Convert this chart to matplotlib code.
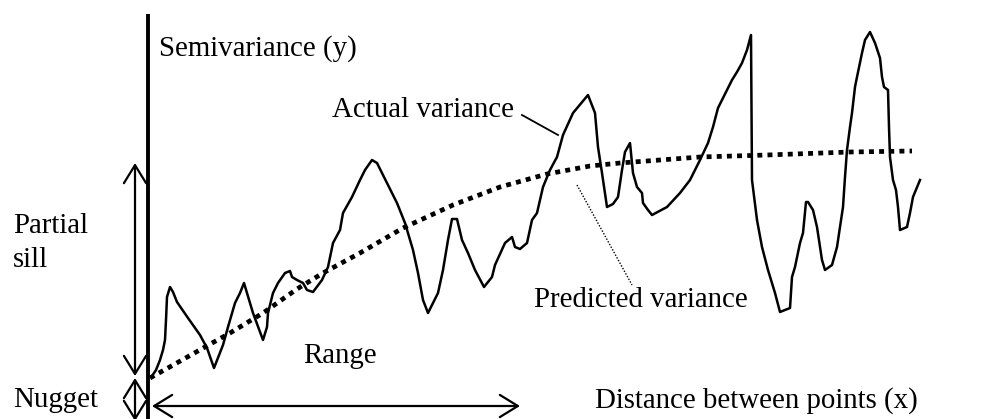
import matplotlib
matplotlib.use("Agg")
import matplotlib.pyplot as plt
from matplotlib.patches import FancyArrowPatch

plt.rcParams['font.family'] = ['Liberation Serif', 'DejaVu Serif']

# Empirical semivariogram (lag distance, semivariance)
actual_distance = [
    4, 8, 12, 15, 17, 18, 19, 22, 25, 29,
    40, 52, 59, 66, 75, 80, 87, 92, 96, 99,
    105, 115, 119, 120, 125, 130, 137, 142, 144, 149,
    155, 159, 165, 174, 180, 185, 192, 195, 204, 212,
    217, 224, 229, 239, 249, 257, 265, 270, 275, 280,
    285, 290, 295, 300, 304, 309, 314, 320, 327, 336,
    344, 347, 357, 364, 367, 372, 379, 384, 389, 395,
    402, 409, 415, 425, 430, 440, 447, 450, 454, 459,
    465, 470, 474, 477, 482, 485, 489, 494, 495, 500,
    504, 519, 532, 542, 552, 560, 565, 570, 579, 584,
    589, 594, 599, 603, 604, 609, 614, 620, 627, 632,
    642, 644, 647, 652, 655, 658, 660, 665, 669, 674,
    677, 684, 689, 695, 697, 699, 702, 704, 707, 709,
    714, 717, 722, 727, 732, 734, 736, 740, 741, 742,
    745, 748, 750, 752, 759, 762, 765, 772,
]
actual_semivariance = [
    32, 38, 48, 58, 68, 88, 111, 121, 116, 106,
    90, 73, 60, 40, 63, 81, 105, 115, 125, 115,
    95, 68, 81, 95, 115, 125, 135, 137, 131, 128,
    125, 118, 116, 128, 141, 165, 178, 195, 211, 228,
    238, 248, 245, 225, 205, 185, 158, 135, 108, 95,
    105, 115, 138, 168, 189, 189, 168, 155, 138, 121,
    131, 143, 165, 171, 161, 159, 165, 188, 195, 221,
    238, 251, 273, 295, 301, 313, 295, 261, 235, 201,
    204, 211, 238, 256, 265, 235, 221, 215, 205, 198,
    193, 201, 215, 228, 248, 265, 281, 300, 318, 328,
    336, 345, 358, 373, 228, 188, 161, 138, 115, 96,
    100, 131, 141, 165, 175, 206, 206, 198, 181, 148,
    138, 143, 161, 201, 231, 258, 281, 295, 321, 331,
    355, 368, 376, 365, 350, 331, 321, 318, 281, 251,
    228, 218, 201, 178, 181, 195, 211, 228,
]

# Fitted model curve
predicted_distance = [2, 27, 57, 82, 115, 149, 175, 212, 255, 305,
                      352, 399, 442, 472, 512, 552, 619, 702, 764]
predicted_semivariance = [30, 44, 61, 75, 95, 119, 135, 155, 180, 203,
                          221, 234, 242, 245, 248, 251, 253, 256, 257]

FS = 20.8

fig = plt.figure(figsize=(9.95, 4.19), dpi=100)
ax = fig.add_axes([0, 0, 1, 1])
ax.set_xlim(-148, 847)
ax.set_ylim(-11, 408)
ax.axis('off')

# Vertical semivariance axis
ax.plot([0, 0], [-11, 394], color='black', lw=2.8, solid_capstyle='butt')

# Curves
ax.plot(actual_distance, actual_semivariance, color='black', lw=1.8,
        solid_joinstyle='round')
ax.plot(predicted_distance, predicted_semivariance, color='black', lw=3.4,
        linestyle=(0, (1.05, 1.1)), dash_capstyle='butt')


def double_arrow(p0, p1):
    arr = FancyArrowPatch(p0, p1,
                          arrowstyle='<->,head_length=13,head_width=8',
                          mutation_scale=1, shrinkA=0, shrinkB=0,
                          color='black', lw=1.6)
    ax.add_patch(arr)


# Partial sill, nugget and range arrows
double_arrow((-13, 245), (-13, 32))
double_arrow((-13, 30), (-13, -13))
double_arrow((4, 2), (372, 2))

# Leader lines
ax.plot([374, 410], [293, 273], color='black', lw=1.3)
ax.plot([429, 484], [223, 123], color='black', lw=1.0, linestyle=(0, (1, 1.2)))

# Labels
ax.text(11, 352, 'Semivariance (y)', fontsize=FS, va='baseline', ha='left')
ax.text(184, 291, 'Actual variance', fontsize=FS, va='baseline', ha='left')
ax.text(386, 101, 'Predicted variance', fontsize=FS, va='baseline', ha='left')
ax.text(447, 0, 'Distance between points (x)', fontsize=FS, va='baseline', ha='left')
ax.text(-135, 175, 'Partial', fontsize=FS, va='baseline', ha='left')
ax.text(-135, 141, 'sill', fontsize=FS, va='baseline', ha='left')
ax.text(-135, 1, 'Nugget', fontsize=FS, va='baseline', ha='left')
ax.text(155, 45, 'Range', fontsize=FS, va='baseline', ha='left')

fig.savefig('out.png', dpi=100, facecolor='white')
